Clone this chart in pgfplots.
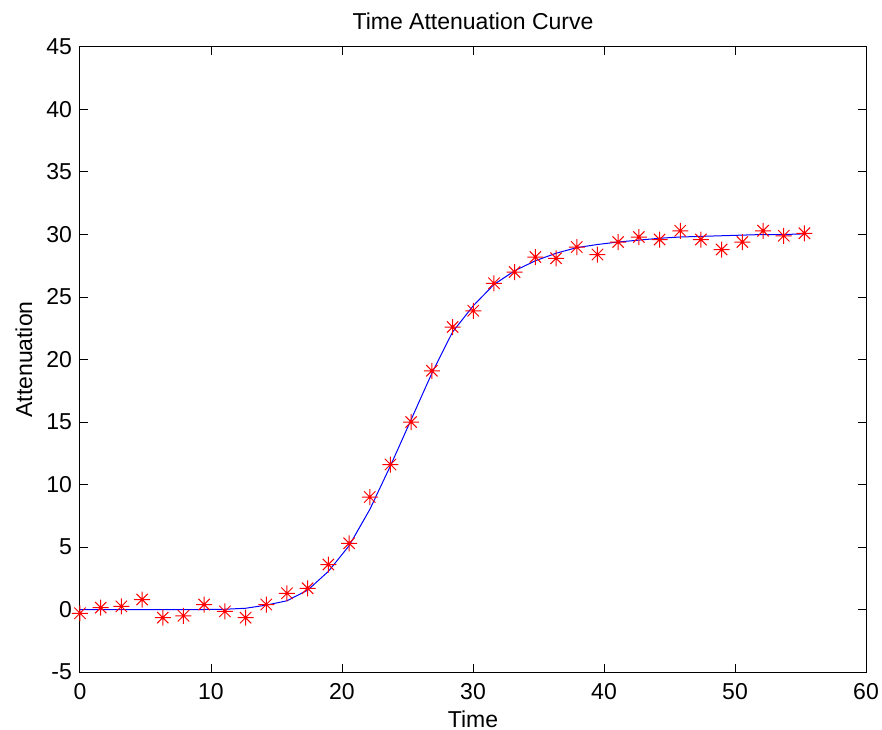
\documentclass[border=0pt]{standalone}
\usepackage{fontspec}
\setmainfont{Liberation Sans}
\usepackage{pgfplots}
\pgfplotsset{compat=1.18}

% MATLAB style '*' marker: plus and cross on top of each other
\pgfdeclareplotmark{mstar}{%
  \pgfpathmoveto{\pgfqpoint{-\pgfplotmarksize}{0pt}}%
  \pgfpathlineto{\pgfqpoint{\pgfplotmarksize}{0pt}}%
  \pgfpathmoveto{\pgfqpoint{0pt}{-\pgfplotmarksize}}%
  \pgfpathlineto{\pgfqpoint{0pt}{\pgfplotmarksize}}%
  \pgfpathmoveto{\pgfqpoint{-.707\pgfplotmarksize}{-.707\pgfplotmarksize}}%
  \pgfpathlineto{\pgfqpoint{.707\pgfplotmarksize}{.707\pgfplotmarksize}}%
  \pgfpathmoveto{\pgfqpoint{-.707\pgfplotmarksize}{.707\pgfplotmarksize}}%
  \pgfpathlineto{\pgfqpoint{.707\pgfplotmarksize}{-.707\pgfplotmarksize}}%
  \pgfusepathqstroke}

\pgfplotstableread{
t      a
0      -0.3
1.58   0.15
3.16   0.25
4.74   0.8
6.32   -0.65
7.90   -0.5
9.48   0.4
11.06  -0.15
12.64  -0.65
14.22  0.4
15.80  1.3
17.38  1.7
18.96  3.6
20.54  5.3
22.12  9.0
23.70  11.6
25.28  15.0
26.86  19.1
28.44  22.6
30.02  23.9
31.60  26.1
33.18  27.0
34.76  28.2
36.34  28.1
37.92  29.0
39.50  28.4
41.08  29.4
42.66  29.8
44.24  29.6
45.82  30.3
47.40  29.6
48.98  28.8
50.56  29.4
52.14  30.3
53.72  29.9
55.30  30.1
}\measured

\pgfplotstableread{
t      f
0      0
1.58   0
3.16   0
4.74   0
6.32   0
7.90   0
9.48   0
11.06  0.02
12.64  0.1
14.22  0.35
15.80  0.7
17.38  1.55
18.96  3.05
20.54  5.1
22.12  8.0
23.70  11.5
25.28  15.2
26.86  18.9
28.44  22.2
30.02  24.3
31.60  26.0
33.18  27.1
34.76  27.9
36.34  28.5
37.92  28.95
39.50  29.2
41.08  29.4
42.66  29.55
44.24  29.7
45.82  29.8
47.40  29.85
48.98  29.9
50.56  29.95
52.14  30.0
53.72  30.0
55.30  30.05
}\fitted

\begin{document}
\begin{tikzpicture}
\begin{axis}[
    width=393pt, height=312.5pt,
    scale only axis,
    xmin=0, xmax=60,
    ymin=-5, ymax=45,
    xtick={0,10,...,60},
    ytick={-5,0,...,45},
    axis line style={line width=0.5pt},
    tick style={black, line width=0.5pt},
    tick align=inside,
    major tick length=4pt,
    font=\fontsize{11.5}{13}\selectfont,
    /pgf/number format/assume math mode=true,
    xticklabel style={anchor=base, yshift=-13.5pt},
    yticklabel style={anchor=east, xshift=-0.5pt},
    title={Time Attenuation Curve},
    xlabel={Time},
    ylabel={Attenuation},
    every axis title/.style={at={(axis description cs:0.5,1.0272)}, anchor=base},
    every axis x label/.style={at={(axis description cs:0.5,-0.088)}, anchor=base},
    every axis y label/.style={at={(axis description cs:-0.061,0.5)}, anchor=base, rotate=90},
]
\addplot[only marks, red, mark=mstar, mark size=4pt, line width=0.5pt] table[x=t, y=a] {\measured};
\addplot[blue, line width=0.5pt, no markers] table[x=t, y=f] {\fitted};
\coordinate (sw) at (rel axis cs:0,0);
\coordinate (ne) at (rel axis cs:1,1);
\end{axis}
\pgfresetboundingbox
\path ([shift={(-40pt,-28.5pt)}]sw) rectangle ([shift={(8pt,23.5pt)}]ne);
\end{tikzpicture}
\end{document}
